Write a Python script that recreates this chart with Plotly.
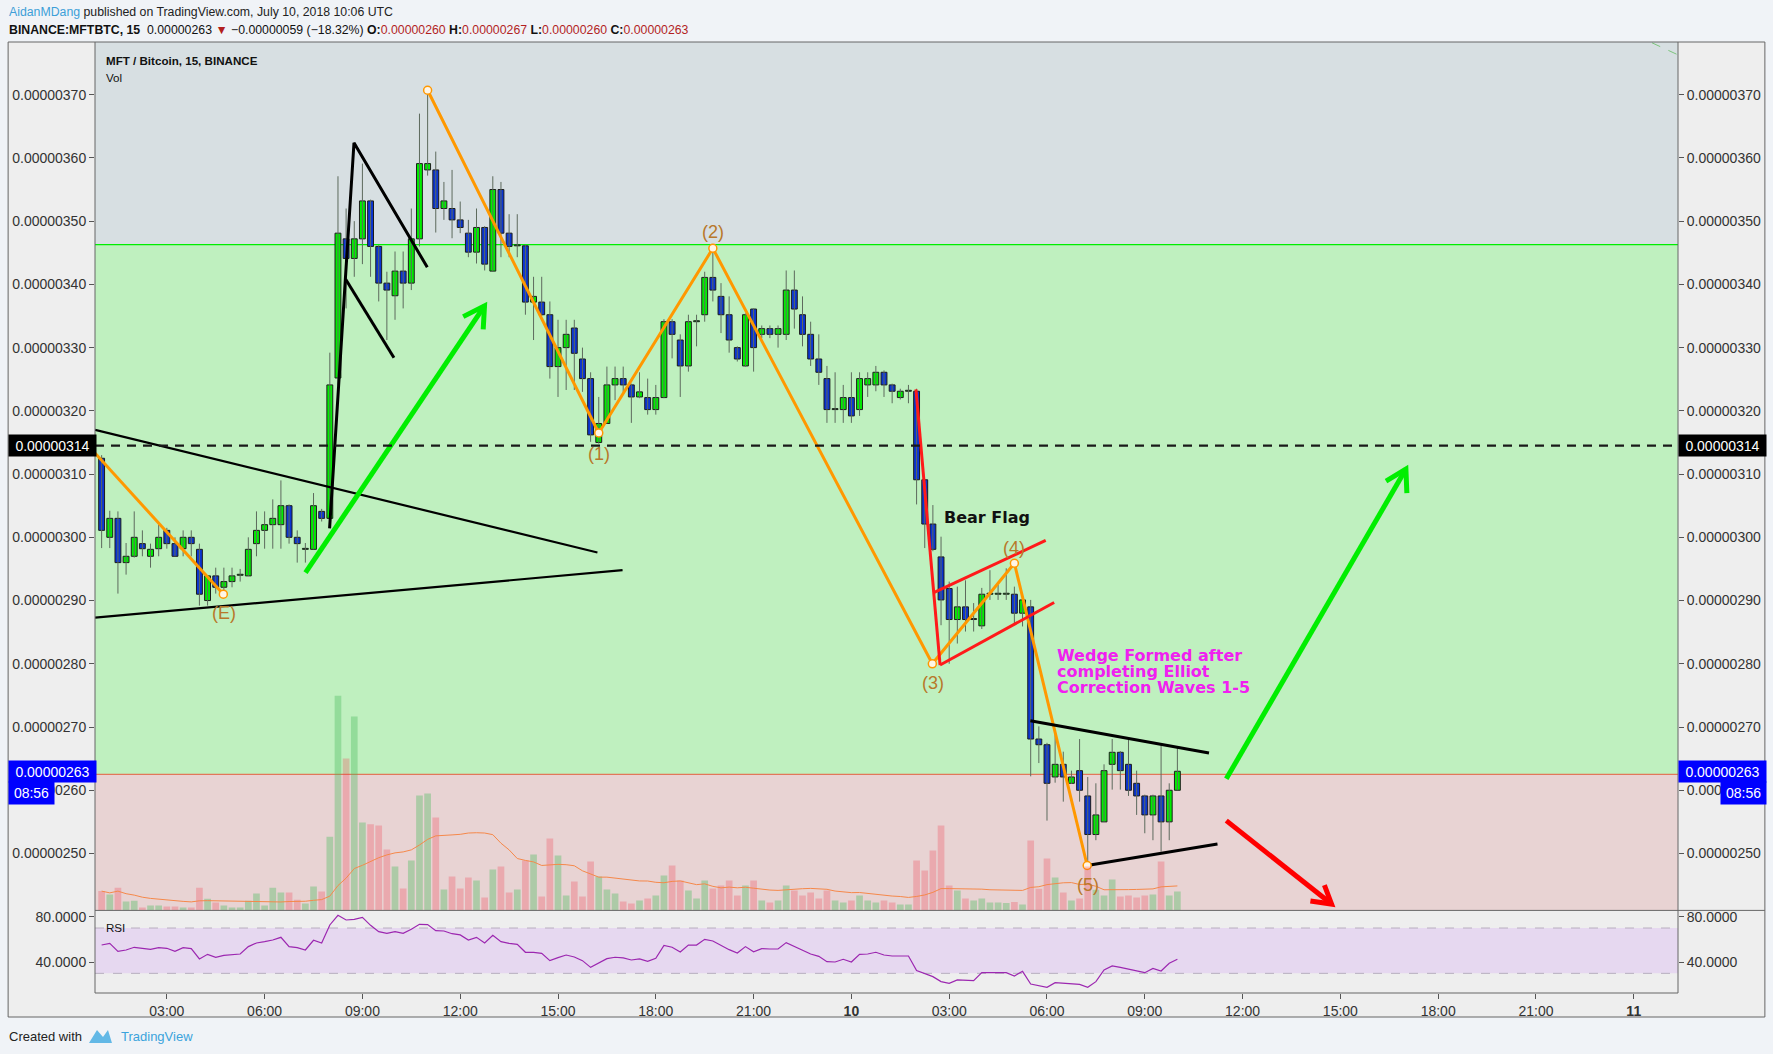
import pandas as pd
import plotly.graph_objects as go

# ---------------- DATA (prices in satoshi: 1 = 0.00000001 BTC) ----------------
opens = [312.5, 300.0, 303.0, 296.0, 297.0, 299.0, 297.0, 298.2, 301.1, 299.0,
         298.2, 300.0, 298.1, 290.0, 293.9, 292.1, 293.0, 294.0, 293.9, 299.0,
         301.1, 302.0, 302.0, 305.0, 300.0, 298.1, 298.1, 304.1, 303.0, 325.2,
         347.2, 344.1, 347.2, 353.2, 346.0, 340.2, 338.2, 342.1, 340.2, 347.2,
         358.1, 358.1, 352.0, 352.0, 350.2, 348.1, 345.1, 349.0, 342.1, 355.0,
         348.1, 346.1, 346.1, 337.2, 337.2, 335.2, 327.0, 330.0, 333.1, 328.2,
         325.1, 315.0, 318.0, 324.1, 325.1, 324.1, 322.2, 322.1, 320.2, 322.1,
         334.1, 331.2, 327.1, 334.1, 335.2, 341.1, 338.1, 335.2, 330.0, 327.1,
         336.1, 332.1, 333.0, 332.1, 332.1, 339.1, 335.2, 332.1, 328.2, 325.1,
         320.2, 320.2, 322.1, 320.2, 324.1, 324.1, 326.1, 324.1, 322.1, 323.1,
         323.1, 309.1, 302.1, 296.9, 291.9, 287.0, 289.0, 287.0, 286.0, 291.0,
         291.0, 291.0, 291.0, 288.0, 289.0, 268.1, 267.2, 262.1, 264.1, 261.1,
         263.1, 259.1, 253.0, 255.0, 264.1, 266.0, 264.1, 261.1, 259.1, 256.1,
         259.1, 255.0, 260.0]
highs = [313.0, 304.2, 304.1, 299.1, 304.1, 301.1, 299.0, 302.0, 301.5, 300.0,
         301.1, 301.1, 299.0, 294.0, 295.2, 295.2, 295.2, 295.0, 300.0, 304.1,
         304.1, 306.0, 309.0, 305.2, 301.1, 299.1, 307.0, 304.5, 329.2, 357.1,
         352.0, 350.0, 359.1, 353.4, 346.2, 342.0, 345.2, 345.2, 352.0, 367.0,
         370.5, 361.0, 356.2, 358.1, 353.1, 350.2, 352.0, 349.2, 357.1, 356.2,
         351.1, 351.1, 346.3, 341.2, 341.2, 337.3, 334.4, 334.4, 334.4, 330.0,
         326.1, 322.2, 327.0, 327.0, 327.0, 324.3, 326.1, 325.1, 324.1, 334.5,
         334.5, 332.1, 335.2, 335.2, 342.0, 345.5, 340.2, 338.1, 330.2, 335.4,
         336.2, 333.5, 333.5, 333.5, 342.2, 342.2, 338.1, 334.1, 332.1, 327.1,
         326.1, 324.1, 326.1, 326.1, 326.1, 327.1, 326.4, 324.3, 323.5, 324.1,
         323.5, 309.2, 305.1, 300.1, 293.0, 292.2, 293.2, 289.6, 292.0, 294.8,
         292.5, 295.1, 292.2, 290.3, 290.1, 270.1, 267.5, 269.0, 266.1, 263.1,
         268.1, 262.1, 261.1, 264.1, 268.1, 266.2, 268.1, 263.1, 259.3, 259.3,
         267.1, 261.1, 267.0]
lows = [298.3, 298.3, 291.1, 294.1, 296.8, 297.0, 295.2, 297.0, 298.2, 297.0,
        297.0, 297.0, 289.2, 289.2, 291.1, 291.1, 292.1, 293.0, 293.9, 297.0,
        298.2, 298.2, 298.2, 299.0, 296.0, 296.0, 298.1, 302.5, 302.5, 324.0,
        336.2, 341.2, 343.2, 341.2, 337.3, 331.2, 334.4, 336.2, 339.1, 346.0,
        357.2, 348.2, 350.2, 347.3, 348.1, 344.3, 343.3, 342.2, 342.1, 344.3,
        344.3, 344.3, 335.2, 331.2, 335.0, 325.1, 322.2, 323.3, 323.3, 323.0,
        315.1, 314.8, 318.0, 321.7, 323.0, 318.1, 322.0, 319.4, 319.4, 322.0,
        328.3, 322.2, 326.2, 330.2, 334.1, 337.3, 332.3, 329.2, 327.8, 327.0,
        326.2, 331.5, 331.5, 330.0, 331.2, 333.0, 330.2, 327.1, 324.1, 318.1,
        318.1, 318.1, 318.1, 319.2, 322.2, 323.1, 322.2, 321.2, 321.8, 321.2,
        305.2, 298.3, 297.8, 286.1, 280.0, 283.2, 285.1, 285.1, 285.5, 290.1,
        290.1, 290.1, 286.4, 285.9, 262.2, 264.3, 255.2, 261.2, 258.2, 261.0,
        258.2, 248.1, 252.1, 255.0, 260.1, 260.1, 259.1, 256.1, 253.2, 252.1,
        250.3, 252.1, 260.0]
closes = [301.1, 303.0, 296.0, 297.0, 300.0, 298.2, 298.1, 300.0, 299.0, 297.0,
          300.0, 299.0, 291.0, 293.9, 292.1, 293.0, 293.9, 294.0, 298.1, 301.1,
          302.0, 303.0, 305.0, 300.0, 299.0, 298.1, 305.0, 303.0, 324.1, 348.1,
          344.1, 347.2, 353.2, 346.0, 340.2, 339.1, 342.1, 340.2, 347.2, 359.1,
          359.1, 352.0, 353.2, 350.2, 349.0, 345.1, 349.0, 343.2, 355.0, 348.1,
          346.0, 346.1, 337.2, 338.1, 335.2, 327.0, 330.0, 332.1, 329.1, 325.1,
          316.2, 318.0, 324.1, 325.1, 324.1, 322.2, 323.0, 320.2, 322.1, 334.1,
          332.1, 327.1, 334.1, 334.1, 341.1, 339.1, 335.2, 331.2, 328.2, 335.2,
          330.0, 333.0, 332.1, 333.0, 339.1, 336.1, 332.1, 328.2, 326.1, 320.2,
          320.2, 322.1, 319.2, 325.1, 325.1, 326.1, 324.1, 323.1, 323.1, 323.1,
          309.1, 302.1, 298.1, 290.1, 287.0, 289.0, 287.0, 287.0, 291.0, 291.0,
          291.0, 291.0, 288.0, 290.1, 268.1, 267.2, 261.1, 264.1, 262.1, 262.1,
          260.0, 253.0, 256.1, 263.1, 266.0, 263.1, 260.0, 259.1, 256.1, 259.1,
          255.0, 260.0, 263.0]
volumes = [19.3, 15.8, 22.7, 9.0, 9.6, 2.8, 4.8, 4.8, 3.8, 3.8,
           2.8, 2.8, 22.7, 11.7, 7.9, 4.8, 2.8, 2.8, 9.6, 16.9,
           4.8, 22.7, 17.9, 17.9, 10.7, 6.9, 23.8, 19.0, 73.7, 214.6,
           151.9, 193.9, 87.8, 86.1, 84.8, 61.0, 43.8, 22.0, 50.0, 115.0,
           117.0, 93.0, 21.0, 34.0, 22.0, 33.0, 30.0, 13.0, 41.0, 44.0,
           18.0, 21.0, 50.0, 56.0, 14.0, 72.0, 55.0, 15.0, 29.0, 14.0,
           49.0, 34.0, 21.0, 17.0, 9.0, 7.0, 10.0, 12.0, 15.0, 35.0,
           45.0, 30.0, 20.0, 12.0, 30.0, 22.0, 25.0, 30.0, 15.0, 25.0,
           30.0, 10.0, 8.0, 10.0, 25.0, 20.0, 15.0, 18.0, 12.0, 20.0,
           10.0, 8.0, 10.0, 15.0, 10.0, 8.0, 10.0, 8.0, 6.0, 6.0,
           50.0, 40.0, 60.0, 85.0, 25.0, 20.0, 12.0, 10.0, 12.0, 8.0,
           8.0, 7.3, 8.3, 6.0, 70.0, 21.7, 52.0, 33.0, 18.0, 10.0,
           12.0, 44.0, 20.7, 15.0, 31.0, 14.0, 15.0, 13.0, 15.0, 16.0,
           49.0, 15.0, 19.0]
rsi = [55.0, 56.5, 49.4, 50.6, 53.0, 51.8, 51.2, 52.7, 52.1, 49.4,
       52.7, 51.8, 42.7, 46.8, 44.2, 45.9, 46.8, 47.1, 53.6, 56.8,
       58.0, 59.4, 61.8, 53.6, 52.7, 50.6, 59.2, 56.8, 72.7, 81.2,
       77.1, 77.7, 79.4, 72.4, 66.8, 65.3, 66.8, 65.3, 68.9, 73.3,
       73.0, 67.7, 67.4, 65.0, 63.9, 59.4, 61.8, 56.8, 63.6, 58.0,
       56.5, 55.6, 48.6, 48.6, 47.7, 41.2, 43.9, 46.2, 44.4, 41.2,
       35.3, 39.2, 43.0, 44.2, 43.6, 41.8, 42.7, 40.6, 43.3, 54.7,
       53.0, 48.9, 55.0, 55.0, 60.0, 58.6, 54.4, 50.9, 48.0, 53.6,
       49.1, 51.8, 51.5, 51.5, 57.1, 53.9, 50.3, 47.1, 45.0, 40.3,
       40.0, 42.4, 40.0, 46.8, 47.1, 48.6, 46.2, 45.3, 45.3, 45.3,
       32.4, 29.4, 27.1, 22.7, 21.2, 24.2, 23.6, 23.6, 30.6, 30.6,
       30.6, 30.6, 27.7, 31.8, 20.6, 19.4, 17.7, 21.8, 21.2, 21.2,
       20.3, 17.7, 22.7, 33.0, 36.5, 35.3, 33.6, 32.4, 30.6, 34.4,
       32.1, 38.9, 42.4]
times = pd.date_range("2018-07-09 01:00", periods=len(opens), freq="15min")

price_ticks = [250, 260, 270, 280, 290, 300, 310, 320, 330, 340, 350, 360, 370]
price_tick_labels = ["0.00000%d" % v for v in price_ticks]
rsi_ticks = [40, 80]
rsi_tick_labels = ["40.0000", "80.0000"]
time_ticks = ["2018-07-09 03:00", "2018-07-09 06:00", "2018-07-09 09:00", "2018-07-09 12:00",
              "2018-07-09 15:00", "2018-07-09 18:00", "2018-07-09 21:00", "2018-07-10 00:00",
              "2018-07-10 03:00", "2018-07-10 06:00", "2018-07-10 09:00", "2018-07-10 12:00",
              "2018-07-10 15:00", "2018-07-10 18:00", "2018-07-10 21:00", "2018-07-11 00:00"]
time_tick_labels = ["03:00", "06:00", "09:00", "12:00", "15:00", "18:00", "21:00", "<b>10</b>",
                    "03:00", "06:00", "09:00", "12:00", "15:00", "18:00", "21:00", "<b>11</b>"]

# horizontal levels (sat)
level_zone_top = 346.3
level_dashed = 314.5
level_zone_bottom = 262.5

# drawings (time, price)
tri_upper_t = ["2018-07-09 00:48", "2018-07-09 16:12:36"]; tri_upper_p = [317.0, 297.6]
tri_lower_t = ["2018-07-09 00:48", "2018-07-09 16:58:48"]; tri_lower_p = [287.3, 294.8]
e_line_t = ["2018-07-09 00:48", "2018-07-09 04:44"]; e_line_p = [313.3, 291.0]
wave_t = ["2018-07-09 11:00", "2018-07-09 16:15", "2018-07-09 19:45",
          "2018-07-10 02:29", "2018-07-10 05:00", "2018-07-10 07:14"]
wave_p = [370.7, 316.5, 345.7, 280.0, 295.9, 248.1]
wave_labels = ["(E)", "(1)", "(2)", "(3)", "(4)", "(5)"]
wave_label_t = ["2018-07-09 04:45", "2018-07-09 16:15", "2018-07-09 19:45",
                "2018-07-10 02:30", "2018-07-10 05:00", "2018-07-10 07:15"]
wave_label_p = [288.0, 313.2, 348.3, 276.9, 298.3, 245.0]
flag_a_t = ["2018-07-09 07:59:35", "2018-07-09 08:44:28", "2018-07-09 10:59:24"]; flag_a_p = [301.4, 362.4, 342.7]
flag_b_t = ["2018-07-09 08:29:13", "2018-07-09 09:58:01"]; flag_b_p = [340.8, 328.4]
arrow1_t = ["2018-07-09 07:15:18", "2018-07-09 12:44:42"]; arrow1_p = [294.4, 336.6]
arrow1_head_t = ["2018-07-09 12:05:31", "2018-07-09 12:44:42", "2018-07-09 12:42:18"]; arrow1_head_p = [334.9, 336.6, 332.9]
pole_t = ["2018-07-10 01:58:48", "2018-07-10 02:43:12"]; pole_p = [323.4, 279.8]
bflag_top_t = ["2018-07-10 02:30:36", "2018-07-10 05:57:36"]; bflag_top_p = [291.2, 299.5]
bflag_bot_t = ["2018-07-10 02:43:12", "2018-07-10 06:13:12"]; bflag_bot_p = [279.8, 289.7]
wedge_up_t = ["2018-07-10 05:29:24", "2018-07-10 10:58:12"]; wedge_up_p = [271.0, 265.9]
wedge_lo_t = ["2018-07-10 07:13:48", "2018-07-10 11:13:48"]; wedge_lo_p = [248.1, 251.5]
arrow2_t = ["2018-07-10 11:30", "2018-07-10 17:00:36"]; arrow2_p = [261.8, 310.8]
arrow2_head_t = ["2018-07-10 16:24", "2018-07-10 17:00:36", "2018-07-10 17:02:24"]; arrow2_head_p = [308.9, 310.8, 307.0]
arrow3_t = ["2018-07-10 11:30", "2018-07-10 14:43:48"]; arrow3_p = [255.2, 242.0]
arrow3_head_t = ["2018-07-10 14:04:48", "2018-07-10 14:43:48", "2018-07-10 14:30:36"]; arrow3_head_p = [242.5, 242.0, 245.0]
corner_t = ["2018-07-11 00:33:36", "2018-07-11 01:21:25"]; corner_p = [378.2, 376.3]

# ---------------- LAYOUT GEOMETRY ----------------
W, H = 1773, 1054
ML, MR, MT, MB = 94, 94, 42, 61
PW, PH = W - ML - MR, H - MT - MB


def px(X):
    return (X - ML) / PW


def py(Y):
    return (H - MB - Y) / PH


pane_split = py(910.4)
price_range = [241.0, 378.33]
rsi_range = [12.66, 85.56]
vol_range = [0, 868.4]
x_range = ["2018-07-09 00:47:48", "2018-07-11 01:21:25"]

FONT = "Liberation Sans, Arial, sans-serif"
BOLDFONT = "DejaVu Sans, Verdana, sans-serif"

up = [c >= o for o, c in zip(opens, closes)]
body_base = [min(o, c) for o, c in zip(opens, closes)]
body_h = [max(abs(c - o), 0.15) for o, c in zip(opens, closes)]
body_col = ["#00ee00" if u else "#0b35d2" for u in up]
vol_col = ["rgba(70,185,90,0.36)" if u else "rgba(240,60,80,0.28)" for u in up]
vol_ma = pd.Series(volumes).rolling(20, min_periods=1).mean()

wick_x, wick_y = [], []
for t, h, l in zip(times, highs, lows):
    wick_x += [t, t, None]
    wick_y += [l, h, None]

fig = go.Figure()

# volume
fig.add_trace(go.Bar(x=times, y=volumes, yaxis="y2", width=15 * 60 * 1000 * 0.82,
                     marker=dict(color=vol_col, line=dict(width=0)), hoverinfo="skip"))
fig.add_trace(go.Scatter(x=times, y=vol_ma, yaxis="y2", mode="lines",
                         line=dict(color="#f5884a", width=1), hoverinfo="skip"))
# candles: wicks + bodies
fig.add_trace(go.Scatter(x=wick_x, y=wick_y, mode="lines", line=dict(color="#5d6a5d", width=1),
                         hoverinfo="skip"))
fig.add_trace(go.Bar(x=times, y=body_h, base=body_base, width=15 * 60 * 1000 * 0.72,
                     marker=dict(color=body_col, line=dict(color="#1c1c1c", width=1)), hoverinfo="skip"))


def line(t, p, color, width, dash=None):
    fig.add_trace(go.Scatter(x=t, y=p, mode="lines", hoverinfo="skip",
                             line=dict(color=color, width=width, dash=dash)))


line(tri_upper_t, tri_upper_p, "#000000", 2.2)
line(tri_lower_t, tri_lower_p, "#000000", 2.2)
line(flag_a_t, flag_a_p, "#000000", 3)
line(flag_b_t, flag_b_p, "#000000", 3)
line(e_line_t, e_line_p, "#ff9800", 3)
line(wave_t, wave_p, "#ff9800", 3)
line(pole_t, pole_p, "#ff1a1a", 3)
line(bflag_top_t, bflag_top_p, "#ff1a1a", 3)
line(bflag_bot_t, bflag_bot_p, "#ff1a1a", 3)
line(wedge_up_t, wedge_up_p, "#000000", 3)
line(wedge_lo_t, wedge_lo_p, "#000000", 3)
line(arrow1_t, arrow1_p, "#00ee00", 5)
line(arrow1_head_t, arrow1_head_p, "#00ee00", 5)
line(arrow2_t, arrow2_p, "#00ee00", 5)
line(arrow2_head_t, arrow2_head_p, "#00ee00", 5)
line(arrow3_t, arrow3_p, "#ff0000", 5)
line(arrow3_head_t, arrow3_head_p, "#ff0000", 5)
line(corner_t, corner_p, "#7cc47c", 1, "dash")

fig.add_trace(go.Scatter(x=[e_line_t[1]] + wave_t, y=[e_line_p[1]] + wave_p, mode="markers",
                         marker=dict(size=8, color="#fff5e6", line=dict(color="#ff9800", width=1.5)),
                         hoverinfo="skip"))

# RSI
fig.add_trace(go.Scatter(x=times, y=rsi, yaxis="y3", mode="lines",
                         line=dict(color="#9c27b0", width=1.2), hoverinfo="skip"))
# dummy traces for right-side axes
fig.add_trace(go.Scatter(x=[times[0]], y=[300], yaxis="y4", mode="markers", opacity=0, hoverinfo="skip"))
fig.add_trace(go.Scatter(x=[times[0]], y=[50], yaxis="y5", mode="markers", opacity=0, hoverinfo="skip"))

shapes = []
# frame background
shapes.append(dict(type="rect", xref="paper", yref="paper", x0=px(7), x1=px(1766), y0=py(1017), y1=py(42),
                   fillcolor="#eeeeee", line=dict(width=0), layer="below"))
# zones
for y0, y1, col in [(level_zone_top, 500, "#d7dfe2"), (level_zone_bottom, level_zone_top, "#bff0bf"),
                    (100, level_zone_bottom, "#e8d3d3")]:
    shapes.append(dict(type="rect", xref="x domain", yref="y", x0=0, x1=1, y0=y0, y1=y1,
                       fillcolor=col, line=dict(width=0), layer="below"))
# RSI band
shapes.append(dict(type="rect", xref="x domain", yref="y3", x0=0, x1=1, y0=30, y1=70,
                   fillcolor="#e6d8f0", line=dict(width=0), layer="below"))
for lv in (30, 70):
    shapes.append(dict(type="line", xref="x domain", yref="y3", x0=0, x1=1, y0=lv, y1=lv,
                       line=dict(color="#b8aebf", width=1, dash="dash"), layer="below"))
# levels
shapes.append(dict(type="line", xref="x domain", yref="y", x0=0, x1=1, y0=level_zone_top, y1=level_zone_top,
                   line=dict(color="#00ee00", width=1.2), layer="below"))
shapes.append(dict(type="line", xref="x domain", yref="y", x0=0, x1=1, y0=level_zone_bottom, y1=level_zone_bottom,
                   line=dict(color="#e2775a", width=1.2), layer="below"))
shapes.append(dict(type="line", xref="x domain", yref="y", x0=0, x1=1, y0=level_dashed, y1=level_dashed,
                   line=dict(color="#1a1a1a", width=2.2, dash="9px,7px")))
# borders
border = "#666666"
for (x0, y0, x1, y1) in [(94, 42, 94, 993), (1679, 42, 1679, 993), (94, 993, 1679, 993), (94, 910.4, 1766, 910.4)]:
    shapes.append(dict(type="line", xref="paper", yref="paper", x0=px(x0), x1=px(x1), y0=py(y0), y1=py(y1),
                       line=dict(color=border, width=1)))
shapes.append(dict(type="rect", xref="paper", yref="paper", x0=px(7), x1=px(1766), y0=py(1017), y1=py(42),
                   line=dict(color=border, width=1)))
# TradingView logo (footer)
shapes.append(dict(type="path", xref="paper", yref="paper",
                   path="M %f %f L %f %f L %f %f L %f %f L %f %f Z" % (
                       px(88), py(1043), px(96), py(1030), px(102), py(1037), px(107), py(1030), px(111), py(1043)),
                   fillcolor="#62b8e6", line=dict(width=0)))

ann = []


def text(x, y, s, size=12, color="#222", xanchor="left", yanchor="middle", xref="paper", yref="paper",
         family=FONT, **kw):
    ann.append(dict(x=x, y=y, xref=xref, yref=yref, text=s, showarrow=False, xanchor=xanchor, yanchor=yanchor,
                    font=dict(family=family, size=size, color=color), **kw))


red = "#b31f1f"
text(px(6), py(12.3), "<span style='color:#3d9fd8'>AidanMDang</span> published on TradingView.com, July 10, 2018 10:06 UTC",
     size=12.3, color="#222")
text(px(6), py(30), "<b>BINANCE:MFTBTC, 15</b>  0.00000263 <span style='color:%s'>▼</span> −0.00000059 (−18.32%%) "
     "<b>O:</b><span style='color:%s'>0.00000260</span> <b>H:</b><span style='color:%s'>0.00000267</span> "
     "<b>L:</b><span style='color:%s'>0.00000260</span> <b>C:</b><span style='color:%s'>0.00000263</span>"
     % (red, red, red, red, red), size=12.3, color="#111")
text(px(103.5), py(60.7), "<b>MFT / Bitcoin, 15, BINANCE</b>", size=11.6, color="#111")
text(px(103.5), py(77), "Vol", size=11.6, color="#111")
text(px(103), py(927.7), "RSI", size=11.6, color="#111")
text(px(6), py(1036.7), "Created with", size=13, color="#222")
text(px(118), py(1036.7), "TradingView", size=13, color="#3ba3dc")

# price label boxes
for X, Y, s, w, h, bg in [(7, 445.7, "0.00000314", 87, 21, "#000000"), (1679, 445.7, "0.00000314", 87, 21, "#000000"),
                          (7, 771.1, "0.00000263", 87, 21, "#0000ff"), (1679, 771.1, "0.00000263", 87, 21, "#0000ff"),
                          (7, 792.6, "08:56", 45, 22, "#0000ff"), (1720.7, 792.6, "08:56", 45.3, 22, "#0000ff")]:
    text(px(X), py(Y), s, size=14, color="#ffffff", bgcolor=bg, width=w, height=h, borderpad=0, align="center")

# wave labels
for t, p, s in zip(wave_label_t, wave_label_p, wave_labels):
    text(t, p, s, size=18, color="#b8782a", xanchor="center", xref="x", yref="y")

text("2018-07-10 02:46", 303.2, "<b>Bear Flag</b>", size=16, color="#111111", xref="x", yref="y", family=BOLDFONT)
for p, s in zip([281.3, 278.8, 276.3], ["Wedge Formed after", "completing Elliot", "Correction Waves 1-5"]):
    text("2018-07-10 06:15:36", p, "<b>%s</b>" % s, size=16, color="#f020f0", xref="x", yref="y", family=BOLDFONT)

axis_font = dict(family=FONT, size=14, color="#333333")
fig.update_layout(
    width=W, height=H, margin=dict(l=ML, r=MR, t=MT, b=MB, pad=0),
    paper_bgcolor="#f0f3f7", plot_bgcolor="#eeeeee", showlegend=False, barmode="overlay",
    shapes=shapes, annotations=ann,
    xaxis=dict(type="date", range=x_range, anchor="y3", tickvals=time_ticks, ticktext=time_tick_labels,
               ticks="outside", ticklen=5, tickcolor="#555", showgrid=False, zeroline=False, showline=False,
               tickfont=axis_font, rangeslider=dict(visible=False)),
    yaxis=dict(domain=[pane_split, 1], range=price_range, tickvals=price_ticks, ticktext=price_tick_labels,
               ticks="outside", ticklen=5, tickcolor="#555", showgrid=False, zeroline=False, showline=False,
               tickfont=axis_font, anchor="x"),
    yaxis2=dict(overlaying="y", range=vol_range, visible=False, anchor="x"),
    yaxis3=dict(domain=[0, pane_split], range=rsi_range, tickvals=rsi_ticks, ticktext=rsi_tick_labels,
                ticks="outside", ticklen=5, tickcolor="#555", showgrid=False, zeroline=False, showline=False,
                tickfont=axis_font, anchor="x"),
    yaxis4=dict(overlaying="y", side="right", range=price_range, tickvals=price_ticks, ticktext=price_tick_labels,
                ticks="outside", ticklen=5, tickcolor="#555", showgrid=False, zeroline=False, showline=False,
                tickfont=axis_font, anchor="x"),
    yaxis5=dict(overlaying="y3", side="right", range=rsi_range, tickvals=rsi_ticks, ticktext=rsi_tick_labels,
                ticks="outside", ticklen=5, tickcolor="#555", showgrid=False, zeroline=False, showline=False,
                tickfont=axis_font, anchor="x"),
)

fig.write_html("out.html", config={"displayModeBar": False, "staticPlot": True},
               post_script="document.body.style.margin='0';document.body.style.padding='0';"
                           "document.documentElement.style.overflow='hidden';")
